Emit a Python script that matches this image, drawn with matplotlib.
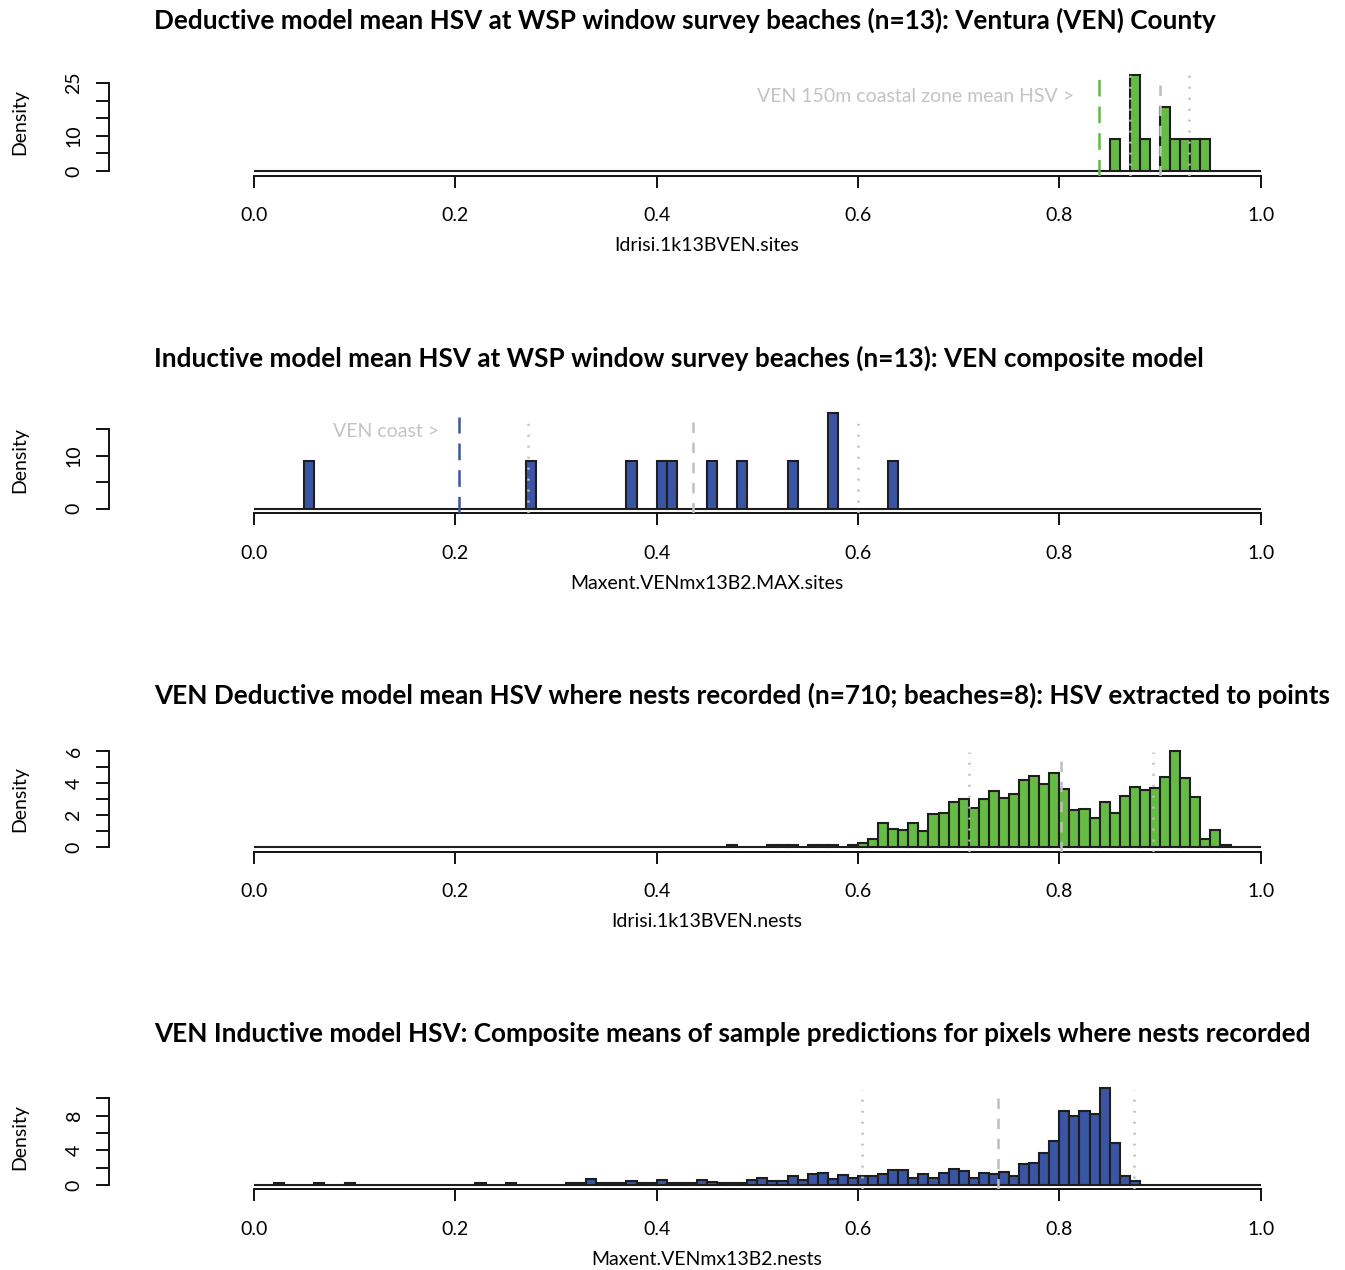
import numpy as np
import matplotlib
matplotlib.use("Agg")
import matplotlib.pyplot as plt

plt.rcParams['font.family'] = ['Lato', 'DejaVu Sans']
plt.rcParams['lines.scale_dashes'] = False

W, H = 1345, 1270

# ---------------- data ----------------
bin_width = 0.01
x_ticks = [0.0, 0.2, 0.4, 0.6, 0.8, 1.0]
x_tick_labels = ["0.0", "0.2", "0.4", "0.6", "0.8", "1.0"]

titles = [
    "Deductive model mean HSV at WSP window survey beaches (n=13): Ventura (VEN) County",
    "Inductive model mean HSV at WSP window survey beaches (n=13): VEN composite model",
    "VEN Deductive model mean HSV where nests recorded (n=710; beaches=8): HSV extracted to points",
    "VEN Inductive model HSV: Composite means of sample predictions for pixels where nests recorded",
]
x_labels = ["Idrisi.1k13BVEN.sites", "Maxent.VENmx13B2.MAX.sites",
            "Idrisi.1k13BVEN.nests", "Maxent.VENmx13B2.nests"]

# panel 1: deductive, sites
p1_bins = [0.85, 0.87, 0.88, 0.90, 0.91, 0.92, 0.93, 0.94]
p1_density = [9.09, 27.27, 9.09, 18.18, 9.09, 9.09, 9.09, 9.09]
# panel 2: inductive, sites
p2_bins = [0.05, 0.27, 0.37, 0.40, 0.41, 0.45, 0.48, 0.53, 0.57, 0.63]
p2_density = [9.09, 9.09, 9.09, 9.09, 9.09, 9.09, 9.09, 9.09, 18.18, 9.09]
# panel 3: deductive, nests
p3_bins = [0.47, 0.51, 0.52, 0.53, 0.55, 0.56, 0.57, 0.59, 0.60, 0.61,
           0.62, 0.63, 0.64, 0.65, 0.66, 0.67, 0.68, 0.69, 0.70, 0.71,
           0.72, 0.73, 0.74, 0.75, 0.76, 0.77, 0.78, 0.79, 0.80, 0.81,
           0.82, 0.83, 0.84, 0.85, 0.86, 0.87, 0.88, 0.89, 0.90, 0.91,
           0.92, 0.93, 0.94, 0.95, 0.96]
p3_density = [0.14, 0.14, 0.14, 0.14, 0.14, 0.14, 0.14, 0.14, 0.25, 0.54,
              1.54, 1.14, 1.08, 1.54, 1.04, 2.06, 2.16, 2.85, 3.01, 2.47,
              3.01, 3.53, 3.07, 3.30, 4.17, 4.44, 3.95, 4.65, 3.63, 2.31,
              2.37, 1.85, 2.82, 2.16, 3.18, 3.78, 3.57, 3.68, 4.38, 6.02,
              4.34, 3.16, 0.50, 1.06, 0.12]
# panel 4: inductive, nests
p4_bins = [0.02, 0.06, 0.09, 0.22, 0.25, 0.31, 0.32, 0.33, 0.34, 0.35,
           0.36, 0.37, 0.38, 0.39, 0.40, 0.41, 0.42, 0.43, 0.44, 0.45,
           0.46, 0.47, 0.48, 0.49, 0.50, 0.51, 0.52, 0.53, 0.54, 0.55,
           0.56, 0.57, 0.58, 0.59, 0.60, 0.61, 0.62, 0.63, 0.64, 0.65,
           0.66, 0.67, 0.68, 0.69, 0.70, 0.71, 0.72, 0.73, 0.74, 0.75,
           0.76, 0.77, 0.78, 0.79, 0.80, 0.81, 0.82, 0.83, 0.84, 0.85,
           0.86, 0.87]
p4_density = [0.23, 0.23, 0.23, 0.23, 0.23, 0.23, 0.23, 0.73, 0.23, 0.23,
              0.23, 0.50, 0.23, 0.23, 0.58, 0.23, 0.23, 0.23, 0.62, 0.40,
              0.27, 0.27, 0.27, 0.58, 0.85, 0.42, 0.42, 1.00, 0.54, 1.27,
              1.42, 0.65, 1.12, 0.81, 1.00, 1.00, 1.27, 1.73, 1.73, 0.85,
              1.27, 0.85, 1.42, 1.85, 1.58, 0.85, 1.42, 1.27, 1.54, 1.08,
              2.38, 2.58, 3.69, 5.12, 8.50, 7.96, 8.50, 8.23, 11.23, 4.81,
              1.00, 0.42]

# summary lines: mean - sd, mean, mean + sd (and coastal-zone mean)
p1_stats = [0.870, 0.900, 0.929]
p2_stats = [0.272, 0.436, 0.600]
p3_stats = [0.7104, 0.8018, 0.8927]
p4_stats = [0.6044, 0.7391, 0.8739]
p1_coast = 0.839
p2_coast = 0.204
coast_labels = ["VEN 150m coastal zone mean HSV >", "VEN coast >"]

# ---------------- styling ----------------
green = "#66BB44"
blue = "#3A55A4"
edge = "#1e1e1e"
grey_line = "#BEBEBE"
grey_text = "#C4C4C4"

fig = plt.figure(figsize=(W / 100, H / 100), dpi=100)


def fx(x):
    return x / W


def fy(y):
    return 1 - y / H


ax_left, ax_right = 109, 1305
xlim = (-0.144, 1.044)

panels = [
    dict(y0=171.0, s=3.52, b=1.42, T=29.3, bins=p1_bins, dens=p1_density, color=green,
         yt=[0, 5, 10, 15, 20, 25], yl=[0, 10, 25], stats=p1_stats,
         hdot=27.3, hdash=25.3, coast=p1_coast, hcoast=26.1, coastcol="#5DBB46",
         ctext=coast_labels[0], ctx=0.815, cty=21.3, title_y=28.5),
    dict(y0=508.7, s=5.29, b=0.87, T=19.3, bins=p2_bins, dens=p2_density, color=blue,
         yt=[0, 5, 10, 15], yl=[0, 10], stats=p2_stats,
         hdot=17.8, hdash=16.8, coast=p2_coast, hcoast=17.4, coastcol=blue,
         ctext=coast_labels[1], ctx=0.184, cty=14.5, title_y=366.5),
    dict(y0=847.3, s=16.05, b=0.27, T=6.29, bins=p3_bins, dens=p3_density, color=green,
         yt=[0, 1, 2, 3, 4, 5, 6], yl=[0, 2, 4, 6], stats=p3_stats,
         hdot=5.96, hdash=5.6, coast=None, title_y=703.5),
    dict(y0=1185.0, s=8.67, b=0.5, T=11.57, bins=p4_bins, dens=p4_density, color=blue,
         yt=[0, 2, 4, 6, 8, 10], yl=[0, 4, 8], stats=p4_stats,
         hdot=11.0, hdash=10.5, coast=None, title_y=1041.5),
]

edges = np.round(np.arange(0, 1.0 + bin_width / 2, bin_width), 4)
nbins = len(edges) - 1

for i, P in enumerate(panels):
    bottom_px = P['y0'] + P['b'] * P['s']
    top_px = P['y0'] - P['T'] * P['s']
    ax = fig.add_axes([fx(ax_left), fy(bottom_px), fx(ax_right - ax_left),
                       (bottom_px - top_px) / H])
    ax.set_xlim(*xlim)
    ax.set_ylim(-P['b'], P['T'])
    ax.patch.set_visible(False)

    heights = np.zeros(nbins)
    for bstart, d in zip(P['bins'], P['dens']):
        heights[int(round(bstart / bin_width))] = d
    ax.bar(edges[:-1], heights, width=bin_width, align='edge', color=P['color'],
           edgecolor=edge, linewidth=1.5, zorder=2)

    lo, mid, hi = P['stats']
    ybot = -P['b']
    ax.plot([lo, lo], [ybot, P['hdot']], color=grey_line, lw=1.8,
            linestyle=(0, (1.4, 6.5)), zorder=3)
    ax.plot([hi, hi], [ybot, P['hdot']], color=grey_line, lw=1.8,
            linestyle=(0, (1.4, 6.5)), zorder=3)
    ax.plot([mid, mid], [ybot, P['hdash']], color=grey_line, lw=1.8,
            linestyle=(0, (7.5, 7.0)), zorder=3)
    if P['coast'] is not None:
        ax.plot([P['coast'], P['coast']], [ybot, P['hcoast']], color=P['coastcol'],
                lw=1.8, linestyle=(0, (12, 7.2)), zorder=3)
        ax.text(P['ctx'], P['cty'], P['ctext'], ha='right', va='center',
                color=grey_text, fontsize=14)

    for side in ['top', 'right']:
        ax.spines[side].set_visible(False)
    ax.spines['left'].set_bounds(0, P['yt'][-1])
    ax.spines['bottom'].set_bounds(0, 1)
    for side in ['left', 'bottom']:
        ax.spines[side].set_linewidth(1.4)
        ax.spines[side].set_color('#111111')

    ax.set_xticks(x_ticks)
    ax.set_xticklabels(x_tick_labels, fontsize=14)
    ax.set_yticks(P['yt'])
    ax.set_yticklabels([str(v) if v in P['yl'] else '' for v in P['yt']], fontsize=14)
    ax.tick_params(axis='x', direction='out', length=8.5, width=1.4, pad=14, color='#111111')
    ax.tick_params(axis='y', direction='out', length=9.5, width=1.4, pad=9.5, color='#111111')
    for lab in ax.get_yticklabels():
        lab.set_rotation(90)
        lab.set_va('center')
        lab.set_ha('right')

    ax.text(-0.0744, 0.5, 'Density', transform=ax.transAxes, rotation=90,
            ha='center', va='center', fontsize=14)
    fig.text(fx(707), fy(bottom_px + 70), x_labels[i], ha='center', va='center', fontsize=14)
    fig.text(fx(154), fy(P['title_y']), titles[i], ha='left', va='baseline',
             fontsize=18.8, fontweight='bold')

fig.savefig("out.png", dpi=100)
